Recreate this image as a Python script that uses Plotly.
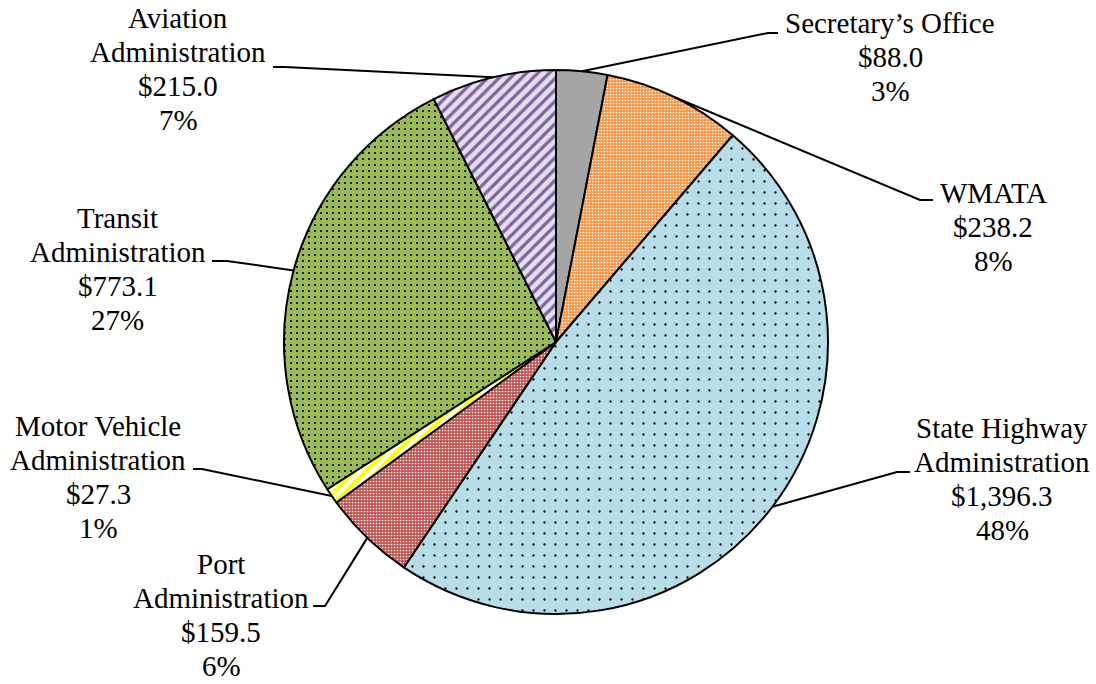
import math
import plotly.graph_objects as go

# Budget by administration ($ millions)
agencies = [
    "Secretary’s Office",
    "WMATA",
    "State Highway Administration",
    "Port Administration",
    "Motor Vehicle Administration",
    "Transit Administration",
    "Aviation Administration",
]
amounts = [88.0, 238.2, 1396.3, 159.5, 27.3, 773.1, 215.0]

# How each agency name wraps in its label
name_lines = [
    ["Secretary’s Office"],
    ["WMATA"],
    ["State Highway", "Administration"],
    ["Port", "Administration"],
    ["Motor Vehicle", "Administration"],
    ["Transit", "Administration"],
    ["Aviation", "Administration"],
]

W, H = 1096, 684
CX, CY, R = 556, 342, 272          # pie centre / radius in pixels
FONT = "Liberation Serif, Times New Roman, serif"
FS = 29
LINE_H = 34

# Slice fills (background, foreground, pattern shape, size, solidity)
styles = [
    ("#A5A5A5", "#A5A5A5", "", 8, 0.3),
    ("#F79646", "#FFFFFF", ".", 3, 0.25),
    ("#B7DEE8", "#000000", ".", 11, 0.035),
    ("#C0504D", "#FFFFFF", ".", 3, 0.25),
    ("#FFFFFF", "#FFFF00", "/", 8, 0.5),
    ("#9BBB59", "#000000", ".", 6, 0.11),
    ("#E4DFEC", "#8064A2", "/", 8, 0.4),
]

# Label placement: text centre x, first baseline y, leader elbow (x, y), leader end x
label_pos = [
    (890, 32, 768, 33, 778),
    (993, 202, 920, 200, 933),
    (1002, 437, 897, 472, 910),
    (221, 573, 325, 606, 313),
    (98, 435, 202, 469, 193),
    (118, 227, 227, 261, 212),
    (178, 27, 285, 67, 273),
]


def px(x):
    return x / W


def py(y):
    return 1 - y / H


fig = go.Figure()
fig.add_trace(go.Pie(
    labels=agencies,
    values=amounts,
    sort=False,
    direction="clockwise",
    rotation=0,
    textinfo="none",
    hoverinfo="label+value+percent",
    showlegend=False,
    domain=dict(x=[px(CX - R), px(CX + R)], y=[py(CY + R), py(CY - R)]),
    marker=dict(
        colors=[s[0] for s in styles],
        line=dict(color="#000000", width=2),
        pattern=dict(
            shape=[s[2] for s in styles],
            bgcolor=[s[0] for s in styles],
            fgcolor=[s[1] for s in styles],
            size=[s[3] for s in styles],
            solidity=[s[4] for s in styles],
            fgopacity=1,
        ),
    ),
))

total = sum(amounts)
cum = 0.0
annotations = []
shapes = []
for name, val, lines, pos in zip(agencies, amounts, name_lines, label_pos):
    mid = (cum + val / 2) / total * 2 * math.pi
    cum += val
    ax = CX + R * math.sin(mid)
    ay = CY - R * math.cos(mid)
    tx, ty, ex, ey, endx = pos
    text_lines = lines + [f"${val:,.1f}", f"{round(val / total * 100):.0f}%"]
    for i, t in enumerate(text_lines):
        base = ty + i * LINE_H
        annotations.append(dict(
            x=px(tx), y=py(base - 9), xref="paper", yref="paper",
            text=t, showarrow=False, xanchor="center", yanchor="middle",
            font=dict(family=FONT, size=FS, color="#000000"),
        ))
    shapes.append(dict(
        type="path", xref="paper", yref="paper",
        path=f"M {px(ax)} {py(ay)} L {px(ex)} {py(ey)} L {px(endx)} {py(ey)}",
        line=dict(color="#000000", width=2),
    ))

fig.update_layout(
    width=W, height=H,
    margin=dict(l=0, r=0, t=0, b=0),
    paper_bgcolor="#FFFFFF",
    plot_bgcolor="#FFFFFF",
    annotations=annotations,
    shapes=shapes,
)

fig.write_html("out.html")
